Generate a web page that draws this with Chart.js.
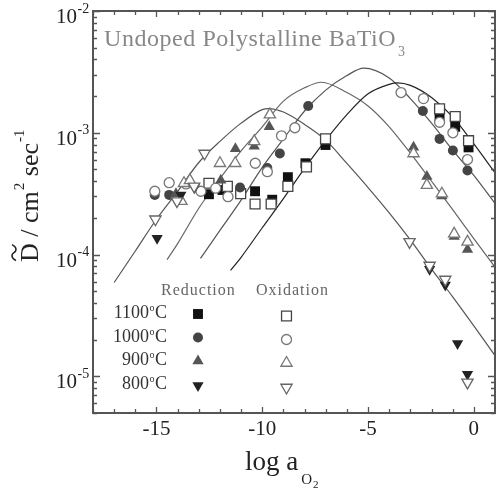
<!DOCTYPE html>
<html>
<head>
<meta charset="utf-8">
<script src="https://cdn.jsdelivr.net/npm/chart.js@4.4.1/dist/chart.umd.min.js"></script>
<style>
html, body { margin: 0; padding: 0; background: #fff; overflow: hidden; }
canvas { display: block; }
</style>
</head>
<body>
<canvas id="c" width="496" height="493"></canvas>
<script>
// fitted curves: x = log aO2, y = D (cm2/sec)
var fitLogA1100 = [-11.5, -11, -10, -9, -8, -7, -6, -5, -4, -3.6, -3, -2, -1, 0, 1];
var fitD1100 = [7.4e-5, 9.5e-5, 1.66e-4, 2.88e-4, 5.1e-4, 8.7e-4, 1.41e-3, 2.09e-3, 2.5e-3, 2.57e-3, 2.45e-3, 1.95e-3, 1.35e-3, 8.1e-4, 4.7e-4];
var fitLogA1000 = [-12.92, -12, -11, -10, -9, -8, -7, -6, -5.2, -4, -3, -2, -1, 0, 1];
var fitD1000 = [9.3e-5, 1.58e-4, 2.8e-4, 5.2e-4, 8.9e-4, 1.51e-3, 2.24e-3, 2.95e-3, 3.39e-3, 2.82e-3, 1.91e-3, 1.2e-3, 7.2e-4, 4.47e-4, 2.63e-4];
var fitLogA900 = [-14.5, -14, -13, -12, -11, -10, -9, -8, -7.2, -6, -5, -4, -3, -2, -1, 0, 1];
var fitD900 = [9.1e-5, 1.23e-4, 2.4e-4, 4.2e-4, 7.1e-4, 1.12e-3, 1.82e-3, 2.34e-3, 2.6e-3, 2.14e-3, 1.66e-3, 1.12e-3, 6.8e-4, 4.0e-4, 2.34e-4, 1.35e-4, 7.9e-5];
var fitLogA800 = [-17, -16, -15, -14, -13, -12, -11, -10, -9.7, -9, -8, -7, -6, -5, -4, -3, -2, -1, 0, 1];
var fitD800 = [5.9e-5, 1.07e-4, 1.95e-4, 3.3e-4, 5.7e-4, 8.5e-4, 1.2e-3, 1.55e-3, 1.58e-3, 1.48e-3, 1.17e-3, 8.7e-4, 5.6e-4, 3.55e-4, 2.2e-4, 1.32e-4, 7.6e-5, 4.5e-5, 2.6e-5, 1.48e-5];

// measured points, reduction (filled) and oxidation (open)
var redLogA1100 = [-12.52, -11.88, -10.34, -9.53, -8.79, -7.96, -7.01, -1.62, -0.88, -0.25];
var redD1100 = [3.13e-4, 3.39e-4, 3.31e-4, 2.82e-4, 4.32e-4, 5.62e-4, 7.94e-4, 1.36e-3, 1.12e-3, 7.59e-4];
var oxLogA1100 = [-12.52, -11.65, -11.02, -10.34, -9.58, -8.79, -7.91, -7.01, -1.62, -0.88, -0.25];
var oxD1100 = [3.85e-4, 3.63e-4, 3.16e-4, 2.6e-4, 2.6e-4, 3.63e-4, 5.25e-4, 8.91e-4, 1.57e-3, 1.36e-3, 8.61e-4];

var redLogA1000 = [-15.08, -14.4, -11.05, -9.76, -9.17, -7.83, -2.41, -1.62, -0.99, -0.3];
var redD1000 = [3.09e-4, 3.09e-4, 3.55e-4, 5.13e-4, 6.76e-4, 1.66e-3, 1.51e-3, 8.91e-4, 7.16e-4, 4.9e-4];
var oxLogA1000 = [-15.08, -14.4, -13.6, -12.9, -12.2, -11.62, -10.33, -9.76, -9.09, -8.46, -3.44, -2.38, -1.62, -0.99, -0.3];
var oxD1000 = [3.31e-4, 3.89e-4, 3.8e-4, 3.31e-4, 3.51e-4, 2.99e-4, 5.62e-4, 4.79e-4, 9.44e-4, 1.1e-3, 2.14e-3, 1.91e-3, 1.22e-3, 1.0e-3, 6.03e-4];

var redLogA900 = [-14.08, -11.96, -11.27, -10.38, -9.67, -2.85, -2.22, -1.51, -0.93, -0.3];
var redD900 = [3.16e-4, 4.07e-4, 7.41e-4, 7.76e-4, 1.12e-3, 7.59e-4, 4.37e-4, 3.02e-4, 1.41e-4, 1.1e-4];
var oxLogA900 = [-13.82, -13.7, -13.42, -12.0, -11.28, -10.38, -9.64, -2.85, -2.22, -1.51, -0.93, -0.3];
var oxD900 = [2.75e-4, 3.85e-4, 4.07e-4, 5.62e-4, 5.62e-4, 8.51e-4, 1.41e-3, 6.76e-4, 3.72e-4, 3.16e-4, 1.48e-4, 1.27e-4];

var redLogA800 = [-14.97, -13.85, -13.2, -2.09, -1.35, -0.77, -0.3];
var redD800 = [1.36e-4, 3.09e-4, 3.55e-4, 7.59e-5, 5.62e-5, 1.86e-5, 1.04e-5];
var oxLogA800 = [-15.05, -14.03, -13.22, -12.73, -3.04, -2.09, -1.35, -0.3];
var oxD800 = [1.95e-4, 2.75e-4, 3.63e-4, 6.76e-4, 1.27e-4, 8.13e-5, 6.24e-5, 8.91e-6];

var xTickLabels = [-15, -10, -5, 0];
var yTickExps = [-2, -3, -4, -5];
var tempLabels = ['1100', '1000', '900', '800'];

var SERIF = '"Liberation Serif", "Times New Roman", serif';

function pts(xs, ys) {
  return xs.map(function (x, i) { return { x: x, y: ys[i] }; });
}

function curve(xs, ys, color) {
  return {
    data: pts(xs, ys), showLine: true, pointRadius: 0, borderColor: color,
    borderWidth: 1.2, cubicInterpolationMode: 'monotone', order: 2
  };
}

var styles = {
  red1100: { pointStyle: 'rect', radius: 7, rot: 0, fill: '#111', stroke: '#111', bw: 0 },
  ox1100: { pointStyle: 'rect', radius: 7, rot: 0, fill: '#fff', stroke: '#444', bw: 1.3 },
  red1000: { pointStyle: 'circle', radius: 5, rot: 0, fill: '#444', stroke: '#444', bw: 0 },
  ox1000: { pointStyle: 'circle', radius: 5, rot: 0, fill: '#fff', stroke: '#777', bw: 1.3 },
  red900: { pointStyle: 'triangle', radius: 6.5, rot: 0, fill: '#555', stroke: '#555', bw: 0 },
  ox900: { pointStyle: 'triangle', radius: 6.5, rot: 0, fill: '#fff', stroke: '#777', bw: 1.3 },
  red800: { pointStyle: 'triangle', radius: 6.5, rot: 180, fill: '#222', stroke: '#222', bw: 0 },
  ox800: { pointStyle: 'triangle', radius: 6.5, rot: 180, fill: '#fff', stroke: '#666', bw: 1.3 }
};

function scatter(xs, ys, s) {
  return {
    data: pts(xs, ys), pointStyle: s.pointStyle, pointRadius: s.radius, pointRotation: s.rot,
    backgroundColor: s.fill, borderColor: s.stroke, borderWidth: s.bw, order: 1
  };
}

function marker(ctx, s, x, y) {
  ctx.save();
  ctx.beginPath();
  var r = s.radius;
  if (s.pointStyle === 'rect') {
    var h = r * Math.SQRT1_2;
    ctx.rect(x - h, y - h, 2 * h, 2 * h);
  } else if (s.pointStyle === 'circle') {
    ctx.arc(x, y, r, 0, Math.PI * 2);
  } else {
    var a = s.rot * Math.PI / 180;
    ctx.moveTo(x + Math.sin(a) * r, y - Math.cos(a) * r);
    a += 2 * Math.PI / 3;
    ctx.lineTo(x + Math.sin(a) * r, y - Math.cos(a) * r);
    a += 2 * Math.PI / 3;
    ctx.lineTo(x + Math.sin(a) * r, y - Math.cos(a) * r);
    ctx.closePath();
  }
  ctx.fillStyle = s.fill;
  ctx.fill();
  if (s.bw) { ctx.lineWidth = s.bw; ctx.strokeStyle = s.stroke; ctx.stroke(); }
  ctx.restore();
}

var framePlugin = {
  id: 'frame',
  afterDatasetsDraw: function (chart) {
    var ctx = chart.ctx, a = chart.chartArea, xs = chart.scales.x, ys = chart.scales.y;
    ctx.save();
    ctx.strokeStyle = '#555';
    ctx.lineWidth = 1.3;
    ctx.beginPath();
    for (var v = Math.ceil(xs.min); v <= xs.max; v++) {
      var px = Math.round(xs.getPixelForValue(v)) + 0.5;
      var len = (v % 5 === 0) ? 6 : 4;
      ctx.moveTo(px, a.bottom); ctx.lineTo(px, a.bottom - len);
      ctx.moveTo(px, a.top); ctx.lineTo(px, a.top + len);
    }
    for (var e = -6; e <= -2; e++) {
      for (var k = 1; k <= 9; k++) {
        var val = k * Math.pow(10, e);
        if (val < ys.min * 0.999 || val > ys.max * 1.001) continue;
        var py = Math.round(ys.getPixelForValue(val)) + 0.5;
        var l = (k === 1) ? 7 : 4;
        ctx.moveTo(a.left, py); ctx.lineTo(a.left + l, py);
        ctx.moveTo(a.right, py); ctx.lineTo(a.right - l, py);
      }
    }
    ctx.stroke();
    ctx.lineWidth = 2;
    ctx.strokeRect(a.left, a.top, a.right - a.left, a.bottom - a.top);
    ctx.restore();
  },
  afterDraw: function (chart) {
    var ctx = chart.ctx, a = chart.chartArea, xs = chart.scales.x, ys = chart.scales.y;
    ctx.save();
    ctx.fillStyle = '#222';
    ctx.textBaseline = 'alphabetic';

    // x tick labels
    ctx.font = '21px ' + SERIF;
    ctx.textAlign = 'center';
    xTickLabels.forEach(function (v) {
      ctx.fillText(String(v), xs.getPixelForValue(v), 435);
    });

    // y tick labels 10^n
    yTickExps.forEach(function (e) {
      var py = ys.getPixelForValue(Math.pow(10, e));
      ctx.font = '21px ' + SERIF;
      ctx.textAlign = 'right';
      ctx.fillText('10', 77, py + 12);
      ctx.font = '14px ' + SERIF;
      ctx.textAlign = 'left';
      ctx.fillText(String(e), 77.5, py + 1.5);
    });

    // x title
    ctx.textAlign = 'left';
    ctx.font = '27px ' + SERIF;
    ctx.fillText('log a', 245, 470);
    var w = ctx.measureText('log a').width;
    ctx.font = '15px ' + SERIF;
    ctx.fillText('O', 245 + w + 3, 484);
    var w2 = ctx.measureText('O').width;
    ctx.font = '11px ' + SERIF;
    ctx.fillText('2', 245 + w + 3 + w2 + 1, 488);

    // y title, rotated
    ctx.save();
    ctx.translate(38, 262);
    ctx.rotate(-Math.PI / 2);
    ctx.font = '26px ' + SERIF;
    var cx = 0;
    var dw = ctx.measureText('D').width;
    ctx.fillText('D', cx, 0);
    // tilde over D
    ctx.beginPath();
    ctx.lineWidth = 1.6;
    ctx.strokeStyle = '#222';
    var tx = cx + dw / 2, ty = -24;
    ctx.moveTo(tx - 8, ty + 2);
    ctx.bezierCurveTo(tx - 5, ty - 4, tx - 1, ty - 2, tx, ty);
    ctx.bezierCurveTo(tx + 1, ty + 2, tx + 5, ty + 4, tx + 8, ty - 2);
    ctx.stroke();
    cx += dw;
    ctx.fillText(' / cm', cx, 0);
    cx += ctx.measureText(' / cm').width;
    ctx.font = '15px ' + SERIF;
    ctx.fillText('2', cx + 1, -14);
    cx += ctx.measureText('2').width + 1;
    ctx.font = '26px ' + SERIF;
    ctx.fillText(' sec', cx, 0);
    cx += ctx.measureText(' sec').width;
    ctx.font = '15px ' + SERIF;
    ctx.fillText('-1', cx + 1, -14);
    ctx.restore();

    // inner title
    ctx.fillStyle = '#888';
    ctx.font = '24px ' + SERIF;
    var title = 'Undoped Polystalline BaTiO';
    var tw = ctx.measureText(title).width;
    ctx.letterSpacing = ((292 - tw) / title.length).toFixed(2) + 'px';
    ctx.fillText(title, 104, 46);
    ctx.letterSpacing = '0px';
    ctx.font = '14px ' + SERIF;
    ctx.fillText('3', 398, 56);

    // legend
    ctx.fillStyle = '#666';
    ctx.font = '16px ' + SERIF;
    ctx.letterSpacing = '1px';
    ctx.fillText('Reduction', 161, 295);
    ctx.fillText('Oxidation', 256, 295);
    ctx.letterSpacing = '0px';

    var rowY = [318, 341.5, 365, 388.5];
    var redKeys = ['red1100', 'red1000', 'red900', 'red800'];
    var oxKeys = ['ox1100', 'ox1000', 'ox900', 'ox800'];
    tempLabels.forEach(function (t, i) {
      var y = rowY[i];
      ctx.fillStyle = '#333';
      ctx.textAlign = 'right';
      ctx.font = '18px ' + SERIF;
      ctx.fillText('C', 167, y);
      var cw = ctx.measureText('C').width;
      ctx.font = '10px ' + SERIF;
      ctx.fillText('o', 167 - cw - 0.5, y - 7);
      var ow = ctx.measureText('o').width;
      ctx.font = '18px ' + SERIF;
      ctx.fillText(t, 167 - cw - ow - 1, y);
      marker(ctx, styles[redKeys[i]], 198, y - 4 + (i === 3 ? 1 : 0));
      marker(ctx, styles[oxKeys[i]], 286.5, y - 2 + (i === 3 ? 1 : 0));
    });
    ctx.restore();
  }
};

new Chart(document.getElementById('c'), {
  type: 'scatter',
  data: {
    datasets: [
      curve(fitLogA1100, fitD1100, '#222'),
      curve(fitLogA1000, fitD1000, '#555'),
      curve(fitLogA900, fitD900, '#666'),
      curve(fitLogA800, fitD800, '#555'),
      scatter(oxLogA800, oxD800, styles.ox800),
      scatter(redLogA800, redD800, styles.red800),
      scatter(oxLogA900, oxD900, styles.ox900),
      scatter(redLogA900, redD900, styles.red900),
      scatter(oxLogA1000, oxD1000, styles.ox1000),
      scatter(redLogA1000, redD1000, styles.red1000),
      scatter(oxLogA1100, oxD1100, styles.ox1100),
      scatter(redLogA1100, redD1100, styles.red1100)
    ]
  },
  options: {
    responsive: false,
    maintainAspectRatio: false,
    animation: false,
    layout: { autoPadding: false, padding: { left: 93, right: 1, top: 11, bottom: 80 } },
    plugins: { legend: { display: false }, tooltip: { enabled: false } },
    scales: {
      x: { type: 'linear', min: -18, max: 1, display: false },
      y: { type: 'logarithmic', min: 5e-6, max: 1e-2, display: false }
    }
  },
  plugins: [framePlugin]
});
</script>
</body>
</html>
